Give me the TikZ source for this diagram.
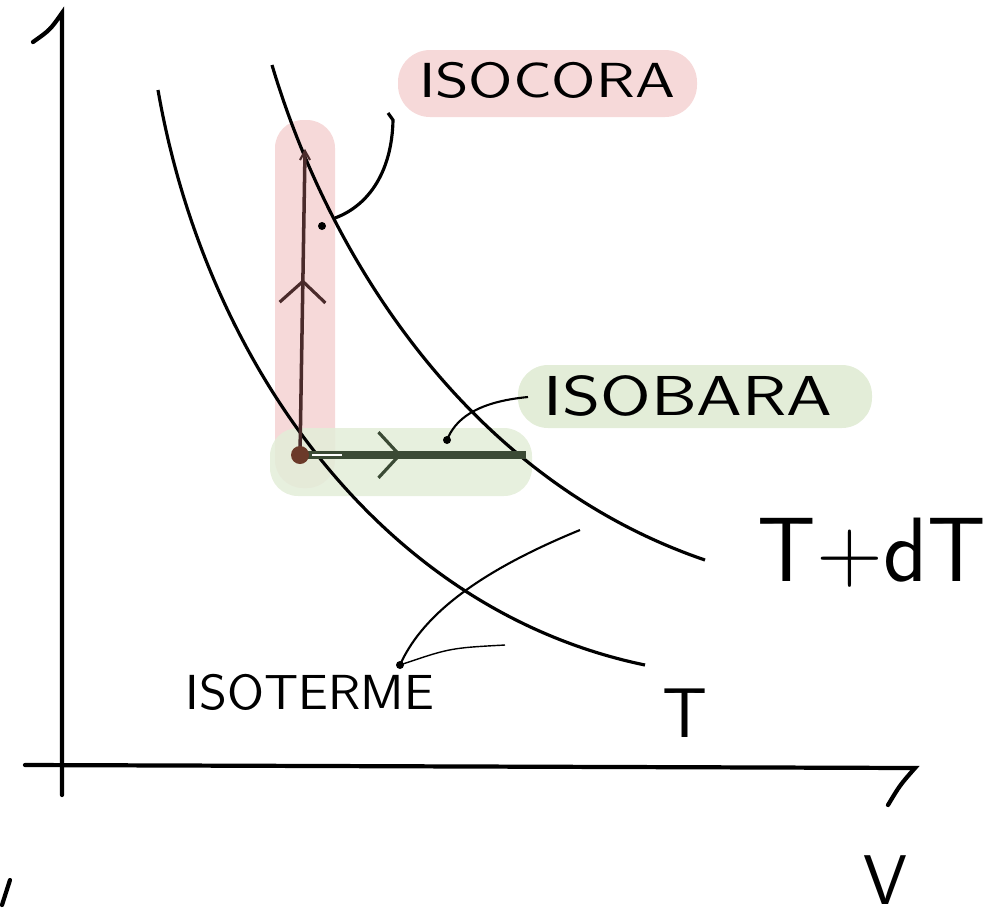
\documentclass[tikz,border=0pt]{standalone}
\usepackage{xcolor}
\usetikzlibrary{decorations.markings,arrows.meta}

\definecolor{hlpink}{HTML}{F6D9D9}
\definecolor{hlgreen}{HTML}{E3EDD8}
\definecolor{isobarcol}{HTML}{3B4A35}
\definecolor{isochorecol}{HTML}{4A2B2B}
\definecolor{dotcol}{HTML}{6B3A2A}

\tikzset{
  axisline/.style={line width=1.2pt, line cap=round},
  isotherm/.style={line width=0.9pt},
  highlight/.style={rounded corners=0.28cm},
  leader/.style={line width=0.6pt},
  hand/.style={font=\sffamily, inner sep=0pt},
  midarrow/.style={decoration={markings,
      mark=at position #1 with {\arrow[line width=0.9pt]{Straight Barb[length=6pt,width=13pt]}}}, postaction={decorate}}
}

\begin{document}
\begin{tikzpicture}[x=0.01cm,y=-0.01cm]
  \useasboundingbox (0,0) rectangle (987,914);

  % Highlights
  \fill[hlpink, highlight] (275,120) rectangle (335,488);
  \fill[hlgreen, highlight, opacity=0.85] (270,428) rectangle (532,496);
  \fill[hlpink, rounded corners=0.32cm] (398,50) rectangle (697,117);
  \fill[hlgreen, rounded corners=0.3cm] (518,365) rectangle (872,428);

  % Axes
  \draw[axisline] (62,795) -- (62,13) .. controls (50,30) .. (33,42);
  \draw[axisline] (25,765) -- (915,768) .. controls (900,785) .. (888,805);
  \draw[axisline] (2,905) -- (10,880);

  % Isotherms
  \draw[isotherm] (158,90) .. controls (205,360) and (380,610) .. (645,665);
  \draw[isotherm] (272,65) .. controls (330,260) and (470,480) .. (705,560);

  % State and transformations
  \coordinate (P) at (300,455);
  \coordinate (A) at (305,152);
  \coordinate (B) at (526,455);
  \draw[isochorecol, line width=1pt, midarrow=0.58] (P) -- (A);
  \draw[isochorecol, line width=0.6pt] (A) ++(-5,8) -- ++(5,-9) -- ++(5,9);
  \draw[isobarcol, line width=2.2pt, midarrow=0.45] (P) -- (B);
  \draw[white, line width=0.5pt] (312,455) -- (342,455);
  \fill[dotcol] (P) circle (9);

  % Labels
  \node[hand, font=\sffamily\fontsize{14}{14}\selectfont, xscale=1.25] (isocora) at (547,80) {ISOCORA};
  \node[hand, font=\sffamily\fontsize{16}{16}\selectfont, xscale=1.3] (isobara) at (688,396) {ISOBARA};
  \node[hand, font=\sffamily\fontsize{14}{14}\selectfont, xscale=1.04] (isoterme) at (310,692) {ISOTERME};
  \node[hand, font=\sffamily\fontsize{26}{26}\selectfont] (labTdT) at (872,553) {T+dT};
  \node[hand, font=\sffamily\fontsize{20}{20}\selectfont] (labT) at (685,713) {T};
  \node[hand, font=\sffamily\fontsize{20}{20}\selectfont] (labV) at (885,880) {V};

  % Leaders
  \coordinate (isocoraend) at (322,226);
  \coordinate (isobaraend) at (447,440);
  \coordinate (isotermeend) at (400,665);
  \draw[leader, line width=0.9pt] (388,113) -- (393,120) .. controls (392,170) and (370,205) .. (335,218);
  \fill (isocoraend) circle (4);
  \draw[leader] (528,397) .. controls (475,402) and (455,420) .. (isobaraend);
  \fill (isobaraend) circle (4);
  \draw[leader] (580,530) .. controls (470,575) and (420,620) .. (isotermeend);
  \draw[leader, line width=0.4pt] (505,645) .. controls (450,648) .. (isotermeend);
  \fill (isotermeend) circle (4);

\end{tikzpicture}
\end{document}
